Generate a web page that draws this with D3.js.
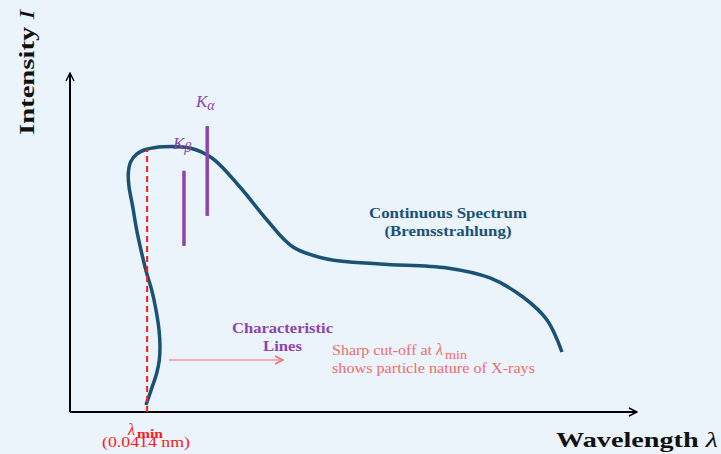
<!DOCTYPE html>
<html>
<head>
<meta charset="utf-8">
<script src="https://cdn.jsdelivr.net/npm/d3@7"></script>
<style>
  html, body { margin: 0; padding: 0; background: #ebf3fb; }
  svg { display: block; font-family: "Liberation Serif", "DejaVu Serif", serif; }
</style>
</head>
<body>
<svg id="chart" width="721" height="454"></svg>
<script>
// Bremsstrahlung continuum (wavelength, intensity) in arbitrary units
const spectrumX = [1.340, 1.441, 1.529, 1.575, 1.587, 1.570, 1.517, 1.441, 1.353, 1.265, 1.176, 1.106, 1.041, 1.028, 1.071, 1.176, 1.353, 1.646, 2.116, 2.504, 2.998, 3.474, 3.933, 4.533, 5.467, 6.649, 7.407, 7.989, 8.413, 8.677];
const spectrumY = [0.124, 0.419, 0.685, 0.920, 1.156, 1.451, 1.805, 2.159, 2.455, 2.809, 3.221, 3.634, 3.988, 4.225, 4.430, 4.566, 4.650, 4.696, 4.673, 4.496, 3.982, 3.398, 2.920, 2.708, 2.619, 2.549, 2.372, 2.035, 1.628, 1.062];

// Characteristic lines: position and vertical extent
const lineNames = ["β", "α"];
const lineX = [2.01, 2.42];
const lineLow = [2.94, 3.47];
const lineHigh = [4.27, 5.06];

const lambdaMin = 1.36;
const lambdaMinTop = 4.65;

const svg = d3.select("#chart");
const x = d3.scaleLinear().domain([0, 10]).range([70, 637]);
const y = d3.scaleLinear().domain([0, 6]).range([412, 73]);

const defs = svg.append("defs");
function arrowMarker(id, color) {
  defs.append("marker")
    .attr("id", id).attr("viewBox", "0 0 10 10")
    .attr("refX", 9).attr("refY", 5)
    .attr("markerWidth", 10).attr("markerHeight", 10)
    .attr("markerUnits", "userSpaceOnUse")
    .attr("orient", "auto")
    .append("path").attr("d", "M1,1 L9,5 L1,9")
    .attr("fill", "none").attr("stroke", color).attr("stroke-width", 1.4);
}
arrowMarker("arrK", "#000");
arrowMarker("arrR", "#f36b6b");

// axes
svg.append("line").attr("x1", x(0)).attr("y1", y(0)).attr("x2", x(10)).attr("y2", y(0))
  .attr("stroke", "#000").attr("stroke-width", 2).attr("marker-end", "url(#arrK)");
svg.append("line").attr("x1", x(0)).attr("y1", y(0)).attr("x2", x(0)).attr("y2", y(6))
  .attr("stroke", "#000").attr("stroke-width", 2).attr("marker-end", "url(#arrK)");

// continuous spectrum
const pts = spectrumX.map((v, i) => [v, spectrumY[i]]);
svg.append("path")
  .attr("d", d3.line().x(d => x(d[0])).y(d => y(d[1])).curve(d3.curveCatmullRom.alpha(0.5))(pts))
  .attr("fill", "none").attr("stroke", "#1a5276").attr("stroke-width", 3.5);

// lambda_min cut-off
svg.append("line").attr("x1", x(lambdaMin)).attr("x2", x(lambdaMin))
  .attr("y1", y(0)).attr("y2", y(lambdaMinTop))
  .attr("stroke", "#ff1a1a").attr("stroke-width", 2).attr("stroke-dasharray", "6,4");

// characteristic lines
lineX.forEach((lx, i) => {
  svg.append("line").attr("x1", x(lx)).attr("x2", x(lx))
    .attr("y1", y(lineLow[i])).attr("y2", y(lineHigh[i]))
    .attr("stroke", "#8e44ad").attr("stroke-width", 3.5);
});

// K labels
function kLabel(px, py, sub) {
  const t = svg.append("text").attr("x", px).attr("y", py)
    .attr("fill", "#8e44ad").attr("font-size", 17).attr("font-style", "italic");
  t.append("tspan").text("K");
  t.append("tspan").attr("font-size", 14).attr("dy", 3).text(sub);
}
kLabel(196, 107, lineNames[1]);
kLabel(173, 149, lineNames[0]);

// helper for text fitted to a given width
function fitted(parent, px, py, str, width, size, opts = {}) {
  const t = parent.append("text").attr("x", px).attr("y", py).attr("font-size", size)
    .attr("textLength", width).attr("lengthAdjust", "spacingAndGlyphs").text(str);
  Object.entries(opts).forEach(([k, v]) => t.attr(k, v));
  return t;
}

// continuous spectrum caption
const blue = { fill: "#1a5276", "font-weight": "bold", "text-anchor": "middle" };
fitted(svg, 448, 218, "Continuous Spectrum", 158, 15, blue);
fitted(svg, 448, 236, "(Bremsstrahlung)", 127, 15, blue);

// characteristic lines caption
const purple = { fill: "#8e44ad", "font-weight": "bold", "text-anchor": "middle" };
fitted(svg, 282.5, 333, "Characteristic", 101, 15, purple);
fitted(svg, 282.5, 351, "Lines", 39, 15, purple);

// cut-off note with arrow
svg.append("line").attr("x1", 169).attr("y1", 360).attr("x2", 283).attr("y2", 360)
  .attr("stroke", "#f36b6b").attr("stroke-width", 1.2).attr("marker-end", "url(#arrR)");
const salmon = { fill: "#f36b6b" };
fitted(svg, 332, 355, "Sharp cut-off at", 100, 15, salmon);
svg.append("text").attr("x", 436).attr("y", 355).attr("font-size", 16).attr("font-style", "italic")
  .attr("fill", "#f36b6b").text("λ");
fitted(svg, 445, 359, "min", 22, 12, salmon);
fitted(svg, 332, 373, "shows particle nature of X-rays", 203, 15, salmon);

// lambda_min label
svg.append("text").attr("x", 128).attr("y", 435).attr("font-size", 16).attr("font-style", "italic")
  .attr("fill", "#ff1a1a").text("λ");
fitted(svg, 137, 438, "min", 26, 13, { fill: "#ff1a1a", "font-weight": "bold" });
fitted(svg, 102, 447, "(0.0414 nm)", 88, 15, { fill: "#ff1a1a" });

// axis titles
const xt = svg.append("text").attr("x", 556).attr("y", 447)
  .attr("font-size", 22).attr("font-weight", "bold").attr("fill", "#111")
  .attr("textLength", 162).attr("lengthAdjust", "spacingAndGlyphs");
xt.append("tspan").text("Wavelength ");
xt.append("tspan").attr("font-style", "italic").attr("font-weight", "normal").text("λ");

const yt = svg.append("text").attr("transform", "translate(34,135) rotate(-90)")
  .attr("font-size", 22).attr("font-weight", "bold").attr("fill", "#111")
  .attr("textLength", 125).attr("lengthAdjust", "spacingAndGlyphs");
yt.append("tspan").text("Intensity ");
yt.append("tspan").attr("font-style", "italic").attr("font-weight", "normal").text("I");
</script>
</body>
</html>
